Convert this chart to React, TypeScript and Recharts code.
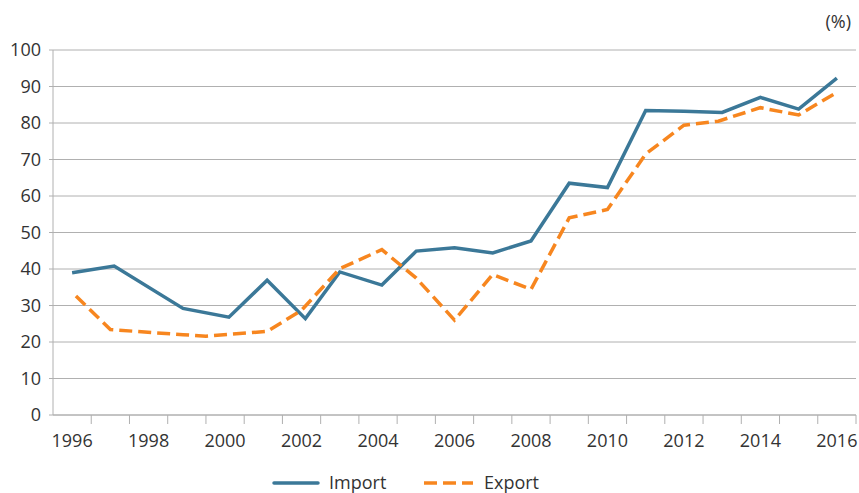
import { LineChart, Line, XAxis, YAxis, CartesianGrid, Legend } from "recharts";

// x positions are read off the picture as fractional years (points are not exactly on the year centres)
const importYears = [1996, 1997.1, 1998.9, 2000.1, 2001.1, 2002.1, 2003, 2004.1, 2005, 2006, 2007, 2008, 2009, 2010, 2011, 2012, 2013, 2014, 2015, 2016];
const importValues = [39.0, 40.8, 29.2, 26.8, 36.9, 26.4, 39.2, 35.6, 44.9, 45.8, 44.4, 47.7, 63.5, 62.3, 83.4, 83.2, 82.9, 87.0, 83.8, 92.3];

const exportYears = [1996.1, 1997, 1998.9, 1999.5, 2000.1, 2001.1, 2002, 2003, 2004.1, 2005, 2006, 2007, 2008, 2009, 2010, 2011, 2012, 2012.9, 2014, 2015, 2016];
const exportValues = [32.6, 23.4, 22.0, 21.6, 22.1, 22.9, 28.7, 40.1, 45.3, 37.5, 26.0, 38.5, 34.4, 54.0, 56.3, 71.5, 79.4, 80.5, 84.2, 82.2, 88.4];

const years = [1996, 1997, 1998, 1999, 2000, 2001, 2002, 2003, 2004, 2005, 2006, 2007, 2008, 2009, 2010, 2011, 2012, 2013, 2014, 2015, 2016];
const xLabels = [1996, 1998, 2000, 2002, 2004, 2006, 2008, 2010, 2012, 2014, 2016];
const yTicks = [0, 10, 20, 30, 40, 50, 60, 70, 80, 90, 100];

const BLUE = "#3b7898";
const ORANGE = "#f7861f";
const GRID = "#b0b0b0";
const TEXT = "#333333";
const FONT = "'Open Sans', 'Noto Sans', sans-serif";

const importData = importYears.map((year, i) => ({ year, value: importValues[i] }));
const exportData = exportYears.map((year, i) => ({ year, value: exportValues[i] }));

// tick marks sit on the year boundaries, labels on the centres of even years
const boundaries = years.slice(1).map((y) => y - 0.5).concat(years[years.length - 1] + 0.5);
const xTicks = [...boundaries, ...xLabels].sort((a, b) => a - b);

const XTick = ({ x, y, payload }: any) => {
  const v = payload.value;
  if (v % 1 !== 0) {
    return <line x1={x} x2={x} y1={y} y2={y + 9} stroke={GRID} strokeWidth={1} />;
  }
  return (
    <text x={x} y={y + 32} textAnchor="middle" fill={TEXT} fontSize={18} fontFamily={FONT}>
      {v}
    </text>
  );
};

const renderLegend = () => (
  <svg width={856} height={24} style={{ display: "block" }}>
    <line x1={274} x2={318} y1={14} y2={14} stroke={BLUE} strokeWidth={3.5} strokeLinecap="round" />
    <text x={329} y={19.5} fill={TEXT} fontSize={18} fontFamily={FONT}>Import</text>
    <line x1={424} x2={473} y1={14} y2={14} stroke={ORANGE} strokeWidth={3.5} strokeDasharray="13 6" />
    <text x={484} y={19.5} fill={TEXT} fontSize={18} fontFamily={FONT}>Export</text>
  </svg>
);

export default function App() {
  return (
    <div style={{ position: "absolute", left: 0, top: 0, width: 859, height: 493, background: "#fff" }}>
      <LineChart width={859} height={493} margin={{ top: 50, right: 3, left: 0, bottom: 0 }}>
        <CartesianGrid vertical={false} stroke={GRID} />
        <XAxis
          type="number"
          dataKey="year"
          domain={[1995.5, 2016.5]}
          ticks={xTicks}
          interval={0}
          tick={<XTick />}
          tickSize={0}
          tickMargin={0}
          tickLine={false}
          axisLine={{ stroke: GRID }}
          height={54}
          allowDataOverflow
        />
        <YAxis
          domain={[0, 100]}
          ticks={yTicks}
          interval={0}
          width={53}
          tickSize={4}
          tickMargin={8}
          tickLine={{ stroke: GRID }}
          axisLine={{ stroke: GRID }}
          tick={{ fill: TEXT, fontSize: 18, fontFamily: FONT }}
        />
        <Legend verticalAlign="bottom" height={24} content={renderLegend} />
        <Line
          data={importData}
          dataKey="value"
          name="Import"
          type="linear"
          stroke={BLUE}
          strokeWidth={3.5}
          dot={false}
          activeDot={false}
          isAnimationActive={false}
        />
        <Line
          data={exportData}
          dataKey="value"
          name="Export"
          type="linear"
          stroke={ORANGE}
          strokeWidth={3.5}
          strokeDasharray="13 6"
          dot={false}
          activeDot={false}
          isAnimationActive={false}
        />
        <text x={851} y={28} textAnchor="end" fill={TEXT} fontSize={18} fontFamily={FONT}>
          (%)
        </text>
      </LineChart>
    </div>
  );
}
